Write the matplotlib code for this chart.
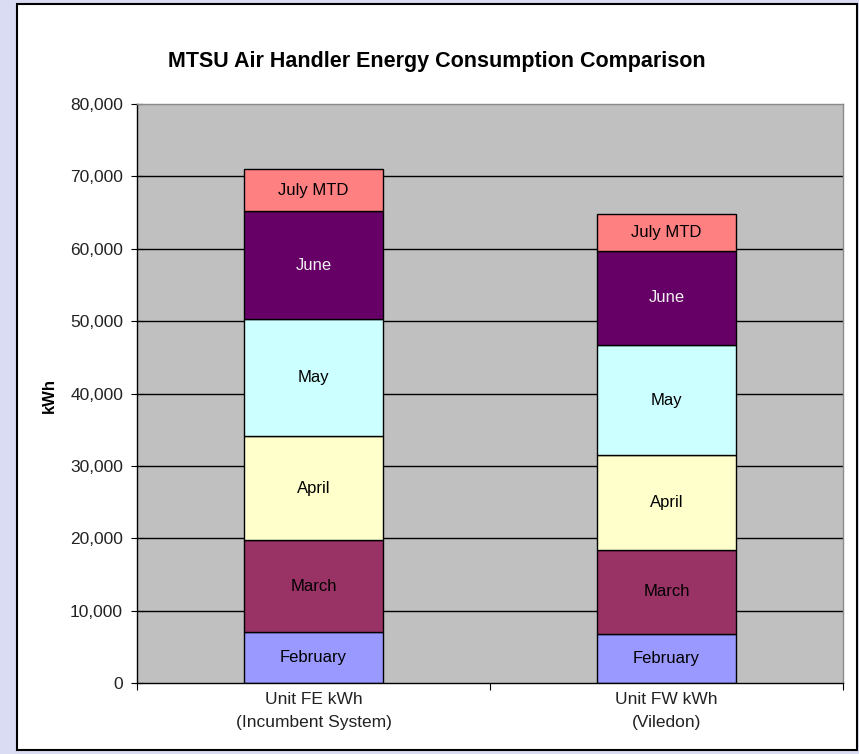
import matplotlib
matplotlib.use("Agg")
import matplotlib.pyplot as plt
from matplotlib.patches import Rectangle
from matplotlib.ticker import FuncFormatter, FixedLocator

plt.rcParams['font.family'] = ['Liberation Sans', 'DejaVu Sans']

categories = ["Unit FE kWh\n(Incumbent System)", "Unit FW kWh\n(Viledon)"]
months = ["February", "March", "April", "May", "June", "July MTD"]
values = {
    "February": [7000, 6800],
    "March": [12750, 11600],
    "April": [14350, 13100],
    "May": [16200, 15200],
    "June": [14900, 13000],
    "July MTD": [5750, 5100],
}
colors = {
    "February": "#9999FF",
    "March": "#993366",
    "April": "#FFFFCC",
    "May": "#CCFFFF",
    "June": "#660066",
    "July MTD": "#FF8080",
}
text_colors = {"June": "#F0F0F0"}
yticks = list(range(0, 80001, 10000))

W, H = 859, 754
fig = plt.figure(figsize=(W / 100, H / 100), dpi=100)
fig.patch.set_facecolor("#D9DCF2")
# inner white panel
fig.patches.append(Rectangle((17 / W, 1 - 750 / H), (857 - 17) / W, (750 - 4) / H,
                             transform=fig.transFigure, facecolor="white",
                             edgecolor="black", linewidth=1.5, zorder=-10))

ax = fig.add_axes([137 / W, 1 - 683 / H, (843 - 137) / W, (683 - 104) / H])
ax.set_zorder(5)
ax.set_facecolor("#C0C0C0")
ax.set_xlim(-0.5, 1.5)
ax.set_ylim(0, 80000)

for y in yticks[1:-1]:
    ax.axhline(y, color="black", linewidth=1.0, zorder=1)

x = [0, 1]
bottoms = [0, 0]
for m in months:
    vals = values[m]
    ax.bar(x, vals, width=0.396, bottom=bottoms, color=colors[m],
           edgecolor="black", linewidth=1.0, zorder=2)
    for i in range(2):
        ax.text(x[i], bottoms[i] + vals[i] / 2, m, ha="center", va="center",
                fontsize=12, color=text_colors.get(m, "black"), zorder=3)
    bottoms = [bottoms[i] + vals[i] for i in range(2)]

for s in ["top", "right"]:
    ax.spines[s].set_color("#8A8A8A")
    ax.spines[s].set_linewidth(1.0)
ax.spines["left"].set_linewidth(1.0)
ax.spines["bottom"].set_linewidth(1.0)

ax.yaxis.set_major_locator(FixedLocator(yticks))
ax.yaxis.set_major_formatter(FuncFormatter(lambda v, p: f"{int(v):,}"))
ax.tick_params(axis="y", direction="inout", length=8, labelsize=12.5, pad=6,
               colors="black", labelcolor="#222222")

ax.set_xticks([-0.5, 0.5, 1.5])
ax.set_xticklabels(["", "", ""])
ax.tick_params(axis="x", direction="out", length=5)
for i, c in enumerate(categories):
    ax.text(x[i], -1300, c, ha="center", va="top", fontsize=12.5, linespacing=1.6,
            color="#222222")

fig.text(437 / W, 1 - 61 / H, "MTSU Air Handler Energy Consumption Comparison",
         ha="center", va="center", fontsize=15.5, fontweight="bold")
fig.text(49 / W, 1 - 396 / H, "kWh", ha="center", va="center", rotation=90,
         fontsize=12, fontweight="bold")

fig.savefig("out.png", dpi=100, facecolor=fig.get_facecolor())
